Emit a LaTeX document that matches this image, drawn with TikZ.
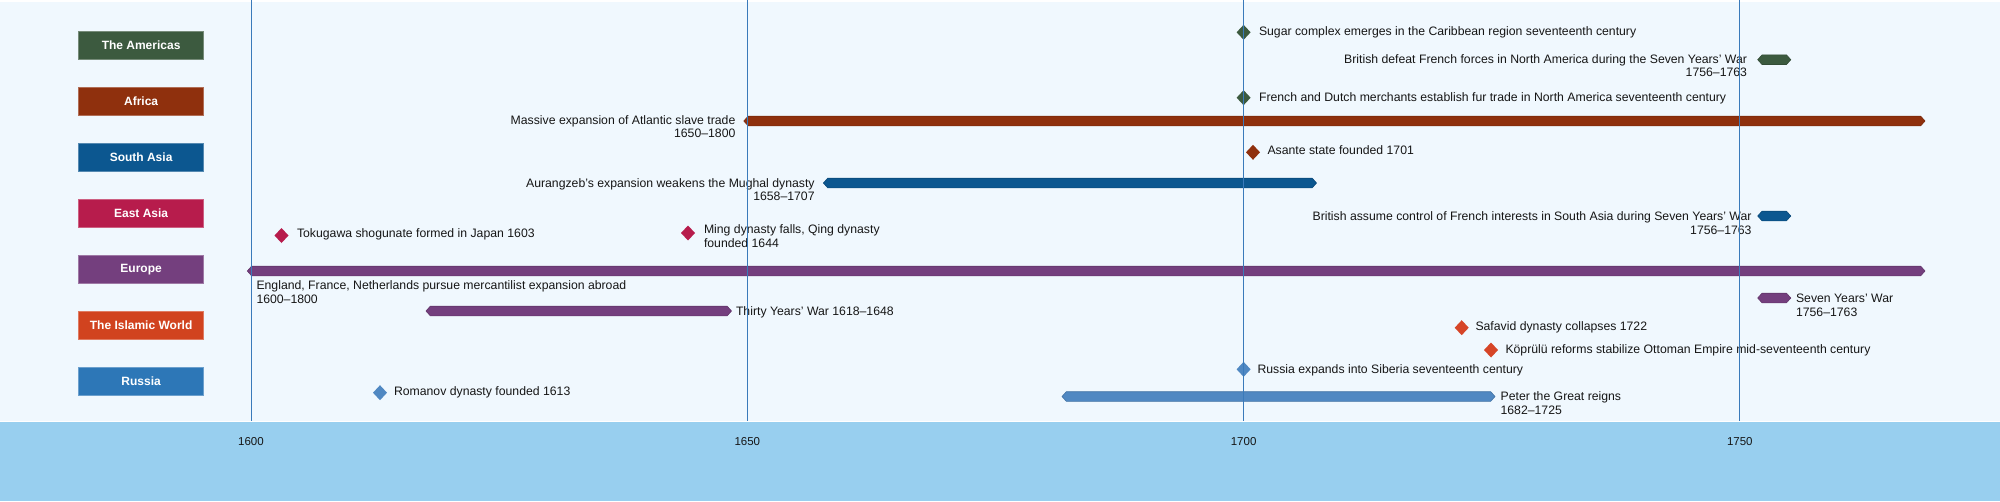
\documentclass[tikz,border=0pt]{standalone}
\usepackage{fontspec}
\setmainfont{Liberation Sans}
\definecolor{plotbg}{HTML}{F0F8FE}
\definecolor{bandc}{HTML}{98CFEF}
\definecolor{gridc}{HTML}{3A7ABA}
\definecolor{txt}{HTML}{161616}
\definecolor{cAm}{HTML}{3C5A3F}
\definecolor{cAf}{HTML}{8F300D}
\definecolor{cSA}{HTML}{0C5790}
\definecolor{cEA}{HTML}{B71C4C}
\definecolor{cEu}{HTML}{743F7E}
\definecolor{cIs}{HTML}{D1431F}
\definecolor{cRu}{HTML}{2D77B7}
\definecolor{cRuL}{HTML}{5088C2}
\definecolor{cIsL}{HTML}{D64527}
\tikzset{
  lbl/.style={inner sep=0pt, outer sep=0pt, font=\fontsize{12.25}{14}\selectfont, text=txt},
  yearlbl/.style={inner sep=0pt, outer sep=0pt, font=\fontsize{11.5}{14}\selectfont, text=txt, anchor=base},
  catbox/.style={draw=#1!70!white, line width=0.8pt, fill=#1, minimum width=125pt, minimum height=27.6pt,
    inner sep=0pt, text=white, font=\fontsize{12}{14}\selectfont\bfseries},
  gridline/.style={draw=gridc, line width=1pt},
}
\newcommand\evdmd[3]{\fill[#1] (#2,#3-7.5) -- (#2+7,#3) -- (#2,#3+7.5) -- (#2-7,#3) -- cycle;}
\newcommand\evbar[4]{\filldraw[fill=#1, draw=#1!85!black, line width=0.6pt]
  (#2,#4) -- (#2+4.3,#4-4.8) -- (#3-4.3,#4-4.8) -- (#3,#4) -- (#3-4.3,#4+4.8) -- (#2+4.3,#4+4.8) -- cycle;}
\begin{document}
\begin{tikzpicture}[x=1pt,y=-1pt]
\useasboundingbox (0,0) rectangle (2000,501);
% backgrounds
\fill[plotbg] (0,0) rectangle (2000,422);
\fill[white] (0,0) rectangle (2000,1.5);
\fill[bandc] (0,422) rectangle (2000,501);
\draw[white, line width=1pt] (0,421.8) -- (2000,421.8);

% category boxes
\node[catbox=cAm] (catAm) at (141.1,45.5) {The Americas};
\node[catbox=cAf] (catAf) at (141.1,101.5) {Africa};
\node[catbox=cSA] (catSA) at (141.1,157.5) {South Asia};
\node[catbox=cEA] (catEA) at (141.1,213.5) {East Asia};
\node[catbox=cEu] (catEu) at (141.1,269.5) {Europe};
\node[catbox=cIs] (catIs) at (141.1,325.5) {The Islamic World};
\node[catbox=cRu] (catRu) at (141.1,381.5) {Russia};

% bars
\evbar{cAm}{1757.7}{1790.8}{59.7}
\evbar{cAf}{743.8}{1925}{121}
\evbar{cSA}{823.4}{1316.5}{183}
\evbar{cSA}{1757.7}{1790.8}{216}
\evbar{cEu}{247.3}{1925}{271}
\evbar{cEu}{426}{731.5}{311}
\evbar{cEu}{1757.7}{1790.8}{298}
\evbar{cRuL}{1062}{1495}{396.5}

% diamonds
\evdmd{cAm}{1243.6}{32.3}
\evdmd{cAm}{1243.6}{97.7}
\evdmd{cAf}{1253}{152.3}
\evdmd{cEA}{281.5}{235.5}
\evdmd{cEA}{688}{233}
\evdmd{cIsL}{1461.7}{327.7}
\evdmd{cIsL}{1491}{350}
\evdmd{cRuL}{1243.6}{369.3}
\evdmd{cRuL}{380}{392.7}

% labels: The Americas
\node[lbl, anchor=base west] (sugar) at (1259,35) {Sugar complex emerges in the Caribbean region seventeenth century};
\node[lbl, anchor=base east] (brdef) at (1747,63.3) {British defeat French forces in North America during the Seven Years’ War};
\node[lbl, anchor=base east] (brdefyr) at (1747,76.7) {1756–1763};
\node[lbl, anchor=base west] (fur) at (1259,101.7) {French and Dutch merchants establish fur trade in North America seventeenth century};
% Africa
\node[lbl, anchor=base east] (slave) at (735.4,124.3) {Massive expansion of Atlantic slave trade};
\node[lbl, anchor=base east] (slaveyr) at (735.4,137.7) {1650–1800};
\node[lbl, anchor=base west] (asante) at (1267.5,154.5) {Asante state founded 1701};
% South Asia
\node[lbl, anchor=base east] (aur) at (814.6,187) {Aurangzeb’s expansion weakens the Mughal dynasty};
\node[lbl, anchor=base east] (auryr) at (814.6,200.7) {1658–1707};
\node[lbl, anchor=base east] (brsa) at (1751.5,220.7) {British assume control of French interests in South Asia during Seven Years’ War};
\node[lbl, anchor=base east] (brsayr) at (1751.5,234.3) {1756–1763};
% East Asia
\node[lbl, anchor=base west] (toku) at (297,237.7) {Tokugawa shogunate formed in Japan 1603};
\node[lbl, anchor=base west] (ming) at (704,233.3) {Ming dynasty falls, Qing dynasty};
\node[lbl, anchor=base west] (ming2) at (704,247.7) {founded 1644};
% Europe
\node[lbl, anchor=base west] (merc) at (256.5,289) {England, France, Netherlands pursue mercantilist expansion abroad};
\node[lbl, anchor=base west] (mercyr) at (256.5,303.3) {1600–1800};
\node[lbl, anchor=base west] (thirty) at (736,315.3) {Thirty Years’ War 1618–1648};
\node[lbl, anchor=base west] (seven) at (1796,302.3) {Seven Years’ War};
\node[lbl, anchor=base west] (sevenyr) at (1796,316) {1756–1763};
% Islamic World
\node[lbl, anchor=base west] (safavid) at (1475.5,330.7) {Safavid dynasty collapses 1722};
\node[lbl, anchor=base west] (koprulu) at (1505.5,353.3) {Köprülü reforms stabilize Ottoman Empire mid-seventeenth century};
% Russia
\node[lbl, anchor=base west] (siberia) at (1257.5,373.3) {Russia expands into Siberia seventeenth century};
\node[lbl, anchor=base west] (romanov) at (394,395.7) {Romanov dynasty founded 1613};
\node[lbl, anchor=base west] (peter) at (1500.6,400) {Peter the Great reigns};
\node[lbl, anchor=base west] (peteryr) at (1500.6,414) {1682–1725};

% grid lines and year labels
\foreach \yr/\xx in {1600/251,1650/747.3,1700/1243.6,1750/1739.8}{
  \draw[gridline] (\xx,0) -- (\xx,421.3);
  \node[yearlbl] (yr\yr) at (\xx,445) {\yr};
}
\end{tikzpicture}
\end{document}
